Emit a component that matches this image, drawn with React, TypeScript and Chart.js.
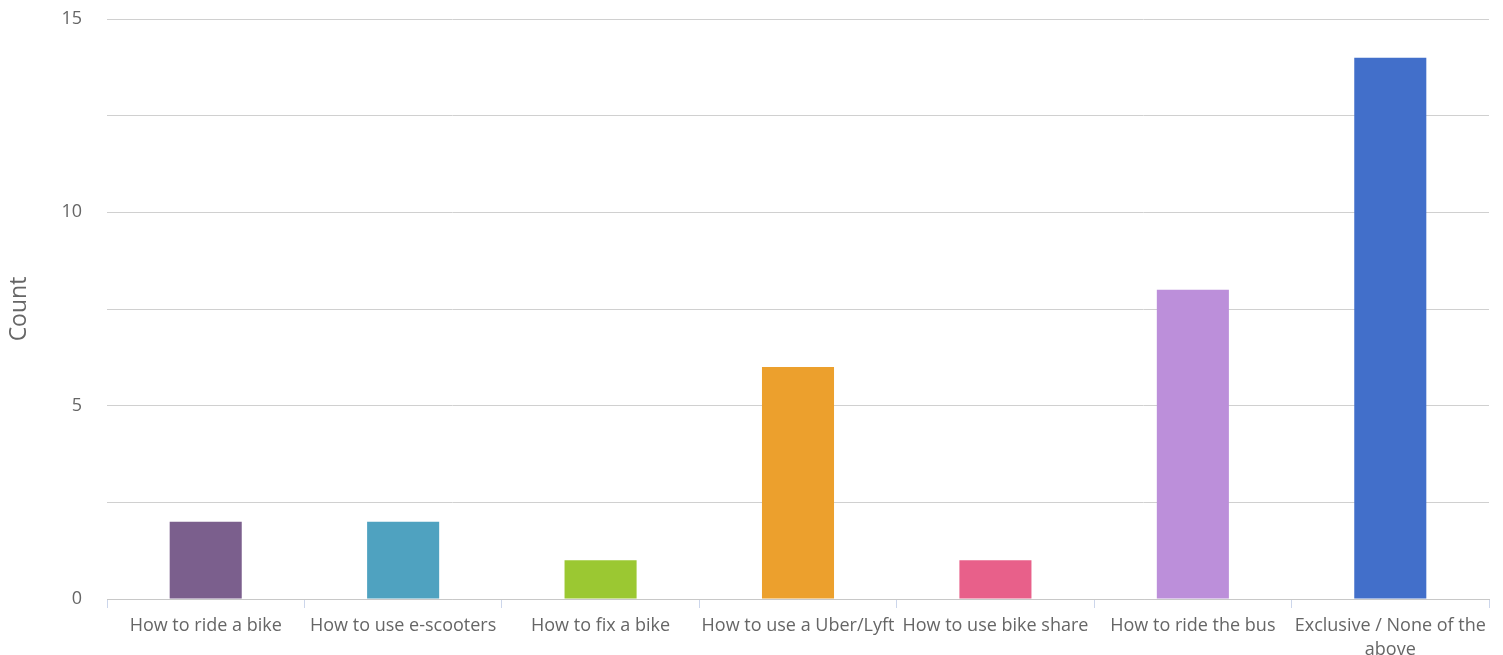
import React, { useEffect, useRef } from "react";
import { Chart, registerables } from "chart.js";

Chart.register(...registerables);

const categories: (string | string[])[] = [
  "How to ride a bike",
  "How to use e-scooters",
  "How to fix a bike",
  "How to use a Uber/Lyft",
  "How to use bike share",
  "How to ride the bus",
  ["Exclusive / None of the", "above"],
];
const counts = [2, 2, 1, 6, 1, 8, 14];
const barColors = ["#7B5F8D", "#4FA2C0", "#9BC832", "#ECA02D", "#E8608A", "#BC8FDA", "#426FCA"];
const gridValues = [0, 2.5, 5, 7.5, 10, 12.5, 15];
const yTicks = [0, 5, 10, 15];

export default function App() {
  const ref = useRef<HTMLCanvasElement>(null);
  useEffect(() => {
    if (!ref.current) return;
    const font = { family: "'Open Sans', sans-serif", size: 18, lineHeight: 1.33 };
    const chart = new Chart(ref.current, {
      type: "bar",
      data: {
        labels: categories,
        datasets: [
          {
            label: "Count",
            data: counts,
            backgroundColor: barColors,
            borderWidth: 0,
            categoryPercentage: 1,
            barPercentage: 0.365,
          },
        ],
      },
      options: {
        animation: false,
        responsive: false,
        maintainAspectRatio: false,
        layout: { padding: { top: 19, right: 14, bottom: 0, left: 0 } },
        plugins: { legend: { display: false }, tooltip: { enabled: false } },
        scales: {
          x: {
            grid: {
              offset: true,
              drawOnChartArea: false,
              drawTicks: true,
              tickLength: 9,
              color: "#CCD6EB",
            },
            border: { color: "#C8C8C8", width: 1 },
            ticks: {
              color: "#666666",
              font,
              maxRotation: 0,
              autoSkip: false,
              padding: 6,
            },
            afterFit: (s: any) => {
              s.height = 56;
              s.paddingLeft = 0;
              s.paddingRight = 0;
            },
          },
          y: {
            min: 0,
            max: 15,
            afterBuildTicks: (s: any) => {
              s.ticks = gridValues.map((v) => ({ value: v }));
            },
            grid: { color: "#D0D0D0", drawTicks: false, lineWidth: 1 },
            border: { display: false },
            ticks: {
              color: "#666666",
              font: { family: "'Open Sans', sans-serif", size: 18 },
              padding: 25,
              callback: (v: any) => (yTicks.includes(Number(v)) ? String(v) : ""),
            },
            title: {
              display: true,
              text: "Count",
              color: "#666666",
              font: { family: "'Open Sans', sans-serif", size: 23 },
              padding: { top: 6, bottom: 0 },
            },
            afterFit: (s: any) => {
              s.width = 107;
              s.paddingTop = 0;
              s.paddingBottom = 0;
            },
          },
        },
      },
    });
    return () => chart.destroy();
  }, []);
  return (
    <div style={{ position: "fixed", left: 0, top: 0, width: 1503, height: 655, background: "#fff" }}>
      <canvas ref={ref} width={1503} height={655} style={{ width: 1503, height: 655 }} />
    </div>
  );
}
